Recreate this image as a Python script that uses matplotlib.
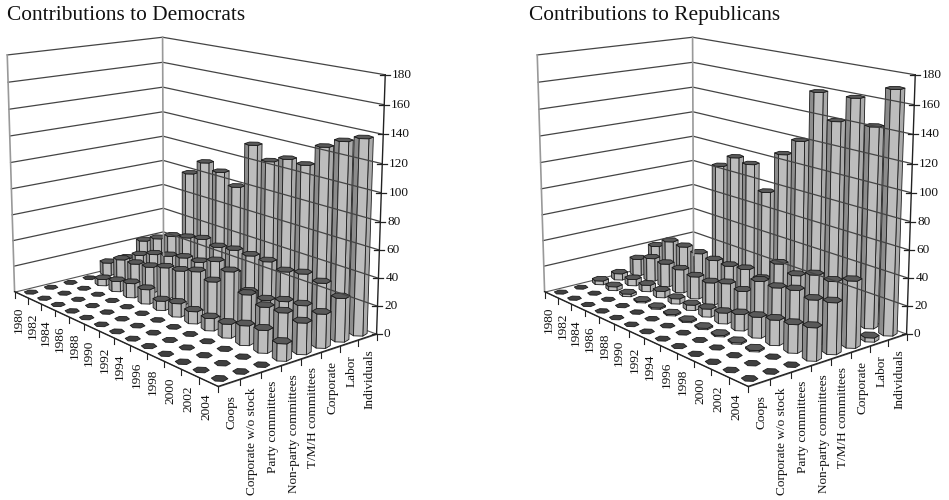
#!/usr/bin/env python
# -*-coding:utf-8 -*
import numpy as np
import matplotlib
matplotlib.use('Agg')
import matplotlib.pyplot as plt
from matplotlib.collections import PolyCollection

years = [1980, 1982, 1984, 1986, 1988, 1990, 1992, 1994, 1996, 1998, 2000, 2002, 2004]
categories = ["Coops", "Corporate w/o stock", "Party committees", "Non-party committees",
              "T/M/H committees", "Corporate", "Labor", "Individuals"]
z_ticks = [0, 20, 40, 60, 80, 100, 120, 140, 160, 180]

dem_coops = [0, 0, 0, 0, 0, 0, 0, 0, 0, 0, 0, 0, 0]
dem_corp_no_stock = [0, 0, 0, 0, 0, 0, 0, 0, 0, 0, 0, 0, 0]
dem_party = [0, 0, 0, 0, 0, 0, 0, 0, 0, 0, 0, 0, 0]
dem_non_party = [0, 5, 8, 11, 11, 7, 10, 9, 9, 10, 14, 16, 12]
dem_tmh = [10, 17, 18, 20, 24, 26, 30, 27, 39, 27, 23, 24, 22]
dem_corporate = [10, 17, 22, 25, 28, 29, 34, 30, 20, 19, 23, 25, 24]
dem_labor = [21, 27, 33, 36, 39, 37, 39, 39, 39, 36, 39, 37, 31]
dem_individuals = [0, 0, 80, 92, 88, 80, 115, 106, 111, 110, 126, 133, 138]

rep_coops = [0, 0, 0, 0, 0, 0, 0, 0, 0, 0, 0, 0, 0]
rep_corp_no_stock = [0, 0, 0, 0, 0, 0, 0, 0, 0, 0, 0, 0, 0]
rep_party = [3, 3, 2, 1, 1, 1, 1, 1, 1, 1, 1, 0, 0]
rep_non_party = [5, 5, 5, 5, 4, 4, 6, 8, 12, 15, 18, 20, 23]
rep_tmh = [13, 18, 18, 18, 17, 17, 21, 20, 32, 32, 35, 33, 36]
rep_corporate = [20, 28, 28, 27, 26, 26, 28, 25, 41, 37, 42, 42, 47]
rep_labor = [2, 2, 2, 2, 2, 2, 2, 2, 2, 2, 2, 2, 3]
rep_individuals = [0, 0, 86, 96, 94, 76, 108, 121, 159, 141, 160, 143, 171]

dem_rows = [dem_coops, dem_corp_no_stock, dem_party, dem_non_party,
            dem_tmh, dem_corporate, dem_labor, dem_individuals]
rep_rows = [rep_coops, rep_corp_no_stock, rep_party, rep_non_party,
            rep_tmh, rep_corporate, rep_labor, rep_individuals]

plt.rcParams['font.family'] = ['Liberation Serif', 'DejaVu Sans']

nx, ny, zmax = len(years), len(categories), z_ticks[-1]

# box corners as they sit in the panel, the camera is fitted on them
world = [(0, 0, 0), (0, 0, zmax), (0, ny, 0), (0, ny, zmax), (nx, ny, 0), (nx, ny, zmax), (nx, 0, 0)]
screen = [(15, 291), (7, 55), (163, 256), (163, 37), (377, 333), (385, 75), (218, 387)]


def fit_camera(world, screen):
    rows = []
    for (x, y, z), (u, v) in zip(world, screen):
        z = z / 20.0
        rows.append([x, y, z, 1, 0, 0, 0, 0, -u * x, -u * y, -u * z, -u])
        rows.append([0, 0, 0, 0, x, y, z, 1, -v * x, -v * y, -v * z, -v])
    return np.linalg.svd(np.array(rows))[2][-1].reshape(3, 4)


CAM = fit_camera(world, screen)
CAM_POS = np.linalg.svd(CAM)[2][-1]
CAM_POS = CAM_POS[:3] / CAM_POS[3]


def proj(x, y, z):
    p = CAM @ np.array([x, y, z / 20.0, 1.0])
    return (p[0] / p[2], p[1] / p[2])


def shade(angle):
    # faces turned to the right of the viewer are a bit lighter
    return 0.48 + 0.27 * max(0.0, np.cos(np.radians(angle + 30)))


def bar_polys(cx, cy, h, r=0.35):
    if h == 0:
        r = 0.29
    angles = np.radians(-45 + 30 + 60 * np.arange(6))
    xs = cx + r * np.cos(angles)
    ys = cy + r * np.sin(angles)
    polys, cols = [], []
    if h > 0:
        for k in range(6):
            n = (k + 1) % 6
            mid = np.radians(-45 + 60 * (k + 1))
            to_cam = CAM_POS[:2] - np.array([cx, cy])
            if np.cos(mid) * to_cam[0] + np.sin(mid) * to_cam[1] <= r * 0.8:
                continue
            polys.append([proj(xs[k], ys[k], 0), proj(xs[n], ys[n], 0),
                          proj(xs[n], ys[n], h), proj(xs[k], ys[k], h)])
            g = shade(np.degrees(mid))
            cols.append((g, g, g))
    polys.append([proj(xs[k], ys[k], h) for k in range(6)])
    g = 0.35 if h > 0 else 0.25
    cols.append((g, g, g))
    return polys, cols


def draw_panel(ax, title, title_x, rows):
    ax.axis('off')
    ax.text(title_x, 20, title, fontsize=15.4, color='#111111', va='baseline', ha='left')

    # walls and floor
    ax.add_collection(PolyCollection(
        [[proj(0, 0, 0), proj(nx, 0, 0), proj(nx, ny, 0), proj(0, ny, 0)]],
        facecolors='white', edgecolors='#555555', linewidths=0.8))
    for z in z_ticks[1:]:
        p = [proj(0, 0, z), proj(0, ny, z), proj(nx, ny, z)]
        ax.plot([q[0] for q in p], [q[1] for q in p], color='#444444', lw=0.9)
    for x, y in [(0, 0), (0, ny)]:
        a, b = proj(x, y, 0), proj(x, y, zmax)
        ax.plot([a[0], b[0]], [a[1], b[1]], color='#999999', lw=1.2)

    # right hand axis
    a, b = proj(nx, ny, 0), proj(nx, ny, zmax)
    ax.plot([a[0], b[0]], [a[1], b[1]], color='#222222', lw=1.0)
    for z in z_ticks:
        u, v = proj(nx, ny, z)
        ax.plot([u - 5, u + 5], [v, v], color='#222222', lw=0.9)
        ax.text(u + 7, v, str(z), fontsize=9.5, va='center', ha='left', color='#111111')

    # floor edges, ticks and labels
    for p, q in [((0, 0), (nx, 0)), ((nx, 0), (nx, ny))]:
        a, b = proj(p[0], p[1], 0), proj(q[0], q[1], 0)
        ax.plot([a[0], b[0]], [a[1], b[1]], color='#222222', lw=0.9)
    for i in range(nx + 1):
        u, v = proj(i, 0, 0)
        ax.plot([u, u], [v, v + 6], color='#222222', lw=0.8)
    for j in range(1, ny + 1):
        u, v = proj(nx, j, 0)
        ax.plot([u, u], [v, v + 6], color='#222222', lw=0.8)
    for i, year in enumerate(years):
        u, v = proj(i + 0.5, 0, 0)
        ax.text(u - 2, v + 12, str(year), rotation=90, fontsize=9.5, va='top', ha='center', color='#111111')
    for j, cat in enumerate(categories):
        u, v = proj(nx, j + 0.5, 0)
        ax.text(u + 2, v + 12, cat, rotation=90, fontsize=9.5, va='top', ha='center', color='#111111')

    # bars, furthest first
    polys, cols = [], []
    for i in range(nx):
        for j in range(ny - 1, -1, -1):
            pl, cl = bar_polys(i + 0.5, j + 0.5, rows[j][i])
            polys += pl
            cols += cl
    ax.add_collection(PolyCollection(polys, facecolors=cols, edgecolors='#1c1c1c', linewidths=0.6))


fig = plt.figure(figsize=(9.49, 5.0), dpi=100)
ax1 = fig.add_axes([0, 0, 500 / 949, 1])
ax1.set_xlim(0, 500)
ax1.set_ylim(500, 0)
ax2 = fig.add_axes([530 / 949, 0, 419 / 949, 1])
ax2.set_xlim(0, 419)
ax2.set_ylim(500, 0)

draw_panel(ax1, "Contributions to Democrats", 7, dem_rows)
draw_panel(ax2, "Contributions to Republicans", -1, rep_rows)

fig.savefig("out.png", dpi=100)
